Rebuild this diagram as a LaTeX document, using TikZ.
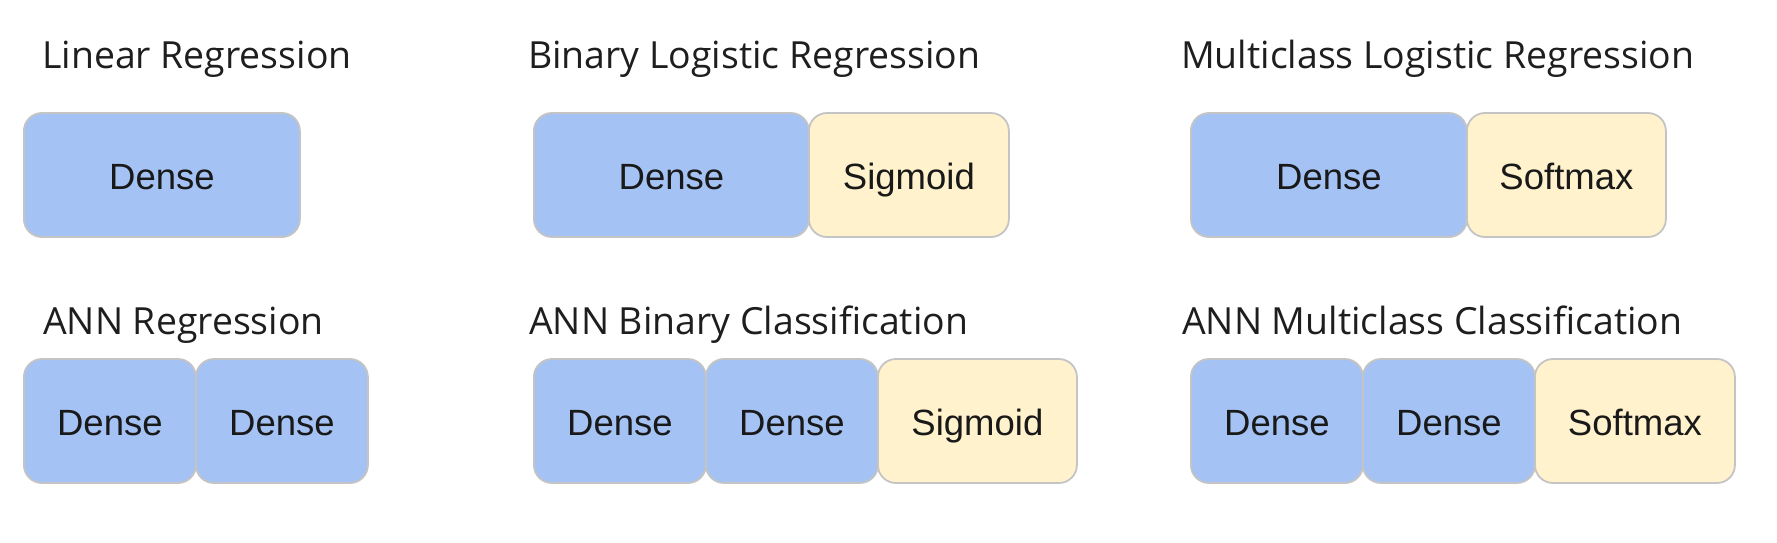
\documentclass[tikz,border=0pt]{standalone}
\usepackage{fontspec}
\setmainfont{Liberation Sans}
\newfontfamily\titlefont{Open Sans}
\definecolor{denseblue}{HTML}{A4C2F4}
\definecolor{actyellow}{HTML}{FFF2CC}
\definecolor{boxline}{HTML}{C4C4C4}
\definecolor{titlegray}{HTML}{1E1E1E}
\begin{document}
\begin{tikzpicture}[x=1pt,y=-1pt,
  layerbox/.style={draw=boxline, line width=1.8pt, rounded corners=18pt,
    font=\fontsize{36.5}{40}\selectfont, text=black!90,
    text height=29pt, text depth=0pt, inner sep=0pt,
    minimum height=124pt, anchor=west},
  dense/.style={layerbox, fill=denseblue},
  act/.style={layerbox, fill=actyellow},
  title/.style={font=\titlefont\fontsize{37.4}{44}\selectfont,
    anchor=base west, inner sep=0pt, text=titlegray}]
\useasboundingbox (0,0) rectangle (1777,542);
% ---- row 1
\node[title] (t1) at (42,68) {Linear Regression};
\node[dense, minimum width=276] (lr) at (23,175) {Dense};

\node[title] (t2) at (528,68) {Binary Logistic Regression};
\node[dense, minimum width=275] (blr1) at (533,175) {Dense};
\node[act, minimum width=200] (blr2) at (808,175) {Sigmoid};

\node[title] (t3) at (1181,68) {Multiclass Logistic Regression};
\node[dense, minimum width=276] (mlr1) at (1190,175) {Dense};
\node[act, minimum width=199] (mlr2) at (1466,175) {Softmax};
% ---- row 2
\node[title] (t4) at (43,334) {ANN Regression};
\node[dense, minimum width=172] (ar1) at (23,421) {Dense};
\node[dense, minimum width=172] (ar2) at (195,421) {Dense};

\node[title] (t5) at (529,334) {ANN Binary Classification};
\node[dense, minimum width=172] (ab1) at (533,421) {Dense};
\node[dense, minimum width=172] (ab2) at (705,421) {Dense};
\node[act, minimum width=199] (ab3) at (877,421) {Sigmoid};

\node[title] (t6) at (1182,334) {ANN Multiclass Classification};
\node[dense, minimum width=172] (am1) at (1190,421) {Dense};
\node[dense, minimum width=172] (am2) at (1362,421) {Dense};
\node[act, minimum width=200] (am3) at (1534,421) {Softmax};
\end{tikzpicture}
\end{document}
